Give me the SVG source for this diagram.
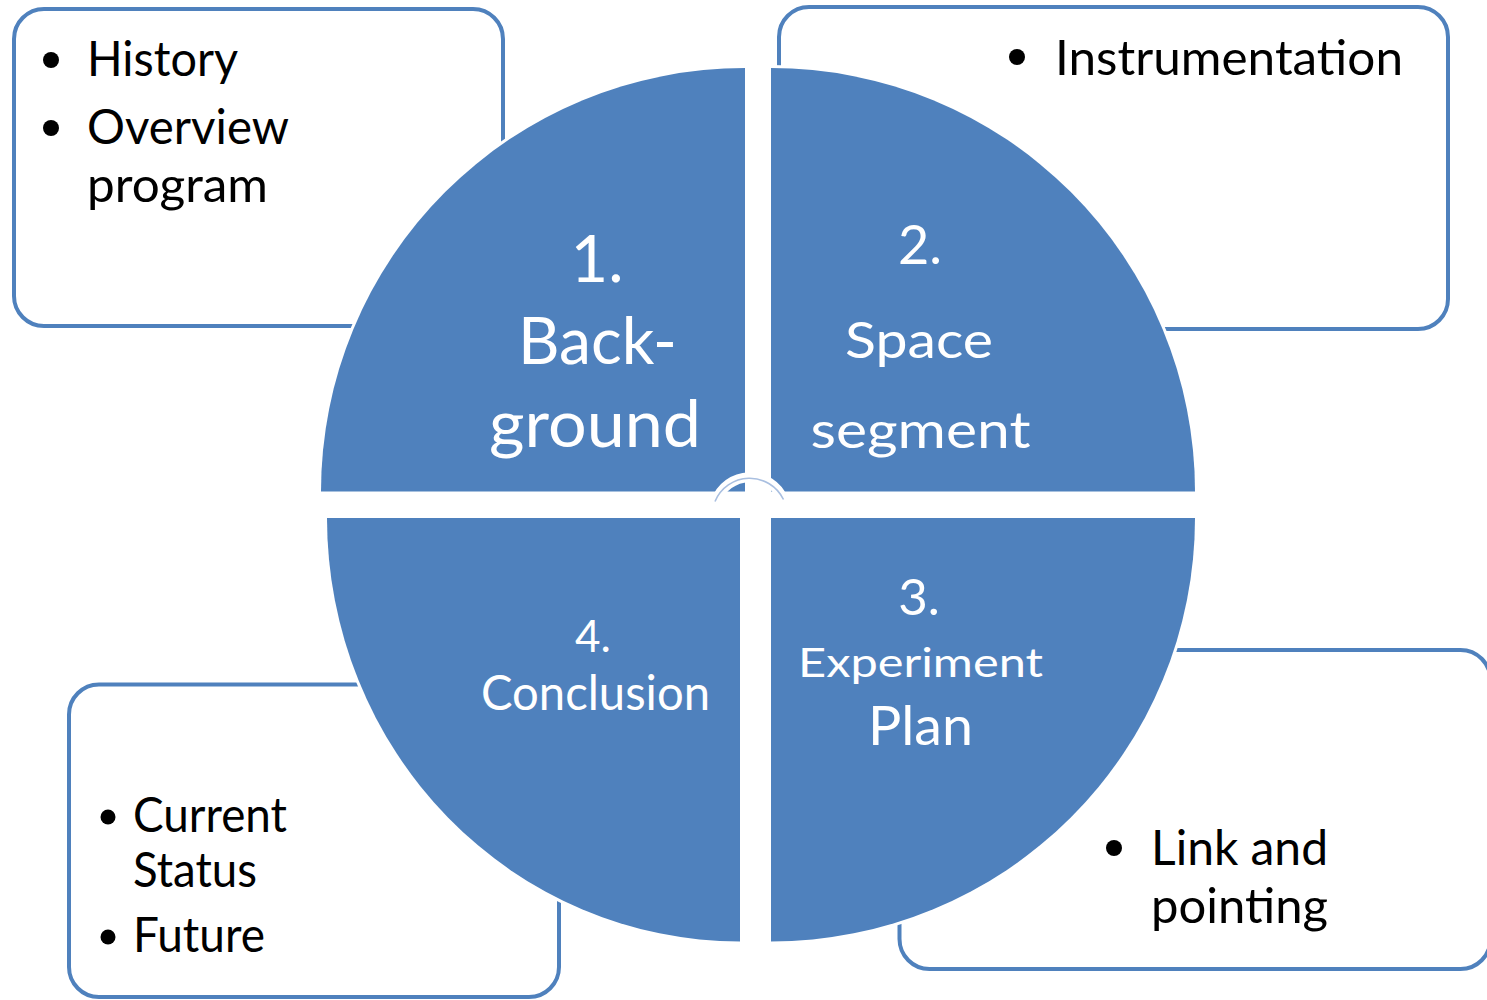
<svg xmlns="http://www.w3.org/2000/svg" width="1487" height="1000" viewBox="0 0 1487 1000">
  <style>
    .box { fill: #ffffff; stroke: #4f81bd; stroke-width: 4; }
    .quad { fill: #4f81bd; stroke: #ffffff; stroke-width: 6; paint-order: stroke fill; }
    .item { font-family: Lato, "Liberation Sans", sans-serif; font-size: 48px; fill: #000000; }
    .bullet { fill: #000000; }
    .label { font-family: Lato, "Liberation Sans", sans-serif; fill: #ffffff; text-anchor: middle; }
  </style>

  <!-- 1. Background (top-left) -->
  <g id="node-background">
    <rect class="box" x="14" y="9" width="489" height="317" rx="30" ry="30"/>
    <path class="quad" d="M745,491.5 L321,491.5 A424,423.5 0 0 1 745,68 Z"/>
    <circle class="bullet" cx="51" cy="60" r="8"/>
    <text class="item" x="87" y="76" textLength="151" lengthAdjust="spacingAndGlyphs">History</text>
    <circle class="bullet" cx="51" cy="128" r="8"/>
    <text class="item" x="87" y="144" textLength="202" lengthAdjust="spacingAndGlyphs">Overview</text>
    <text class="item" x="87" y="202" textLength="181" lengthAdjust="spacingAndGlyphs">program</text>
    <text class="label" font-size="65" x="597" y="282">1.</text>
    <text class="label" font-size="65" x="597.5" y="364" textLength="159" lengthAdjust="spacingAndGlyphs">Back-</text>
    <text class="label" font-size="65" x="595" y="447" textLength="212" lengthAdjust="spacingAndGlyphs">ground</text>
  </g>

  <!-- 2. Space segment (top-right) -->
  <g id="node-space-segment">
    <rect class="box" x="779" y="7" width="669" height="322" rx="30" ry="30"/>
    <path class="quad" d="M771,491.5 L771,68 A424,423.5 0 0 1 1195,491.5 Z"/>
    <circle class="bullet" cx="1017" cy="57" r="8"/>
    <text class="item" x="1055" y="75" textLength="348" lengthAdjust="spacingAndGlyphs">Instrumentation</text>
    <text class="label" font-size="54" x="920" y="264">2.</text>
    <text class="label" font-size="50" x="919" y="358" textLength="148" lengthAdjust="spacingAndGlyphs">Space</text>
    <text class="label" font-size="50" x="920.5" y="448" textLength="220" lengthAdjust="spacingAndGlyphs">segment</text>
  </g>

  <!-- 3. Experiment Plan (bottom-right) -->
  <g id="node-experiment-plan">
    <rect class="box" x="899.5" y="650" width="591" height="319" rx="30" ry="30"/>
    <path class="quad" d="M771,518 L1195,518 A424,423.5 0 0 1 771,941.5 Z"/>
    <circle class="bullet" cx="1114" cy="848" r="8"/>
    <text class="item" x="1151" y="865" textLength="177" lengthAdjust="spacingAndGlyphs">Link and</text>
    <text class="item" x="1151" y="923" textLength="177" lengthAdjust="spacingAndGlyphs">pointing</text>
    <text class="label" font-size="51" x="919" y="615">3.</text>
    <text class="label" font-size="40" x="920.5" y="677" textLength="245" lengthAdjust="spacingAndGlyphs">Experiment</text>
    <text class="label" font-size="55" x="920.5" y="745" textLength="105" lengthAdjust="spacingAndGlyphs">Plan</text>
  </g>

  <!-- 4. Conclusion (bottom-left) -->
  <g id="node-conclusion">
    <rect class="box" x="69" y="684.5" width="490" height="312.5" rx="30" ry="30"/>
    <path class="quad" d="M740,518 L740,941.5 A413,423.5 0 0 1 327,518 Z"/>
    <circle class="bullet" cx="108" cy="817" r="7.5"/>
    <text class="item" x="133" y="832" font-size="45" textLength="154" lengthAdjust="spacingAndGlyphs">Current</text>
    <text class="item" x="133" y="887" font-size="45" textLength="124" lengthAdjust="spacingAndGlyphs">Status</text>
    <circle class="bullet" cx="108" cy="937" r="7.5"/>
    <text class="item" x="133" y="952" font-size="45" textLength="132" lengthAdjust="spacingAndGlyphs">Future</text>
    <text class="label" font-size="44" x="593" y="652">4.</text>
    <text class="label" font-size="48" x="595.5" y="710" textLength="229" lengthAdjust="spacingAndGlyphs">Conclusion</text>
  </g>

  <!-- circular arrows at the hub of the cycle -->
  <g id="cycle-arrows" fill="none">
    <path d="M716,501 A36,36 0 0 1 783,499" stroke="#ffffff" stroke-width="10"/>
    <path d="M715,501.5 A37.5,37.5 0 0 1 783.5,499.5" stroke="#a9bfe0" stroke-width="1.6"/>
  </g>
</svg>
